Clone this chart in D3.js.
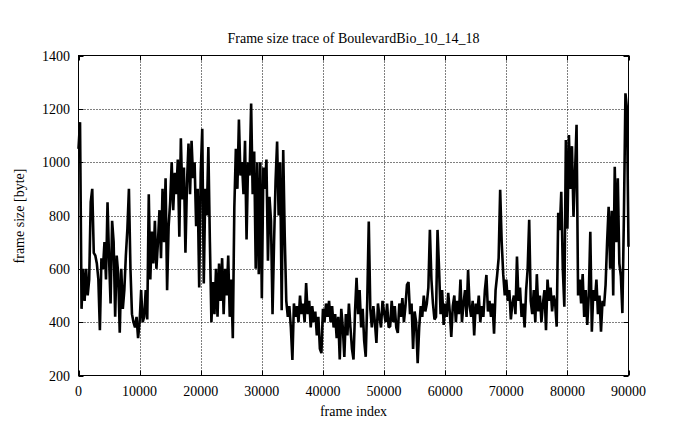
<!DOCTYPE html>
<html><head><meta charset="utf-8">
<script src="https://cdn.jsdelivr.net/npm/d3@7/dist/d3.min.js"></script>
<style>
html,body{margin:0;padding:0;background:#fff;}
svg text{font-family:"Liberation Serif","Times New Roman",serif;fill:#000;}
</style></head>
<body><svg id="c" width="695" height="429"></svg>
<script>
const titleText = "Frame size trace of BoulevardBio_10_14_18";
const xLabel = "frame index";
const yLabel = "frame size [byte]";
const xTicks = [0,10000,20000,30000,40000,50000,60000,70000,80000,90000];
const yTicks = [200,400,600,800,1000,1200,1400];
const frameStep = 250;
// frame sizes sampled every 250 frames (0 .. 90000)
const sizes = [
1050,1150,450,600,480,600,500,560,850,900,660,650,620,560,370,640,600,700,560,850,
640,470,780,700,420,650,580,360,600,450,520,650,750,900,600,430,400,380,420,340,
400,520,400,420,520,410,880,
560,740,620,780,600,700,820,640,900,700,940,520,760,850,1000,820,960,880,1010,720,
1090,860,980,660,920,1070,880,1080,940,1000,760,900,530,960,1125,545,900,800,1057,700,
400,550,430,
600,420,620,480,640,430,600,500,650,420,560,340,830,1050,900,1160,950,1000,880,1080,
710,1000,950,1220,880,1040,600,1000,580,1000,490,980,900,1010,630,870,780,430,700,930,
1077,800,1000,445,1046,720,
480,420,460,380,258,470,420,460,400,500,430,470,400,547,430,480,380,460,400,440,
350,420,300,284,450,400,470,420,480,400,460,380,430,340,420,260,450,380,270,430,
350,470,380,300,260,440,566,
430,520,380,450,330,270,480,777,450,380,460,400,322,470,420,380,480,437,400,470,
380,385,480,400,460,380,360,470,420,490,400,460,540,550,430,470,300,440,400,246,
380,460,420,500,440,470,
530,746,560,470,410,420,746,600,430,520,390,470,420,510,440,345,460,500,400,480,
430,560,400,470,520,420,595,460,420,480,350,470,430,500,400,460,420,520,577,440,
480,420,470,357,520,575,
640,896,700,580,500,560,480,520,410,470,500,430,646,480,530,420,470,380,520,600,
784,480,430,520,400,580,440,500,400,470,520,370,560,480,530,440,500,470,383,810,
745,889,600,458,1083,750,
1102,900,1060,795,960,1140,500,560,470,580,420,520,390,500,739,364,520,480,560,430,
500,364,480,460,540,700,833,600,818,500,983,700,940,620,573,434,800,1258,1200,683
];
const frames = sizes.map((v,i)=>i*frameStep);

const svg = d3.select("#c");
const m = {l:78.5, r:628.5, t:55.5, b:375.5};
const x = d3.scaleLinear().domain([0,90000]).range([m.l,m.r]);
const y = d3.scaleLinear().domain([200,1400]).range([m.b,m.t]);

// grid
const g = svg.append("g");
g.selectAll(".gx").data(xTicks.slice(1,-1)).join("line")
 .attr("x1",d=>Math.round(x(d))+0.5).attr("x2",d=>Math.round(x(d))+0.5)
 .attr("y1",m.t).attr("y2",m.b).attr("stroke","#000").attr("stroke-width",1).attr("stroke-dasharray","1,2");
g.selectAll(".gy").data(yTicks.slice(1,-1)).join("line")
 .attr("y1",d=>Math.round(y(d))+0.5).attr("y2",d=>Math.round(y(d))+0.5)
 .attr("x1",m.l).attr("x2",m.r).attr("stroke","#000").attr("stroke-width",1).attr("stroke-dasharray","1,2");

// ticks (inward, mirrored)
const tl = 5;
xTicks.forEach(d=>{
  const xp = Math.round(x(d))+0.5;
  g.append("line").attr("x1",xp).attr("x2",xp).attr("y1",m.b).attr("y2",m.b-tl).attr("stroke","#000");
  g.append("line").attr("x1",xp).attr("x2",xp).attr("y1",m.t).attr("y2",m.t+tl).attr("stroke","#000");
});
yTicks.forEach(d=>{
  const yp = Math.round(y(d))+0.5;
  g.append("line").attr("y1",yp).attr("y2",yp).attr("x1",m.l).attr("x2",m.l+tl).attr("stroke","#000");
  g.append("line").attr("y1",yp).attr("y2",yp).attr("x1",m.r).attr("x2",m.r-tl).attr("stroke","#000");
});

// data line
const line = d3.line().x((d,i)=>x(frames[i])).y(d=>y(d));
svg.append("path").datum(sizes).attr("d",line).attr("fill","none")
 .attr("stroke","#000").attr("stroke-width",2.6).attr("stroke-linejoin","miter").attr("stroke-miterlimit",2);

// border
svg.append("rect").attr("x",m.l).attr("y",m.t).attr("width",m.r-m.l).attr("height",m.b-m.t)
 .attr("fill","none").attr("stroke","#000").attr("stroke-width",1);

// tick labels
svg.selectAll(".xl").data(xTicks).join("text")
 .attr("x",d=>x(d)).attr("y",396).attr("text-anchor","middle").attr("font-size",14).text(d=>d);
svg.selectAll(".yl").data(yTicks).join("text")
 .attr("x",70).attr("y",d=>y(d)+5).attr("text-anchor","end").attr("font-size",14).text(d=>d);

// titles
svg.append("text").attr("x",353.5).attr("y",43).attr("text-anchor","middle").attr("font-size",14).text(titleText);
svg.append("text").attr("x",353.5).attr("y",416).attr("text-anchor","middle").attr("font-size",14).text(xLabel);
svg.append("text").attr("transform","translate(24,216) rotate(-90)").attr("text-anchor","middle").attr("font-size",14).text(yLabel);
</script></body></html>
